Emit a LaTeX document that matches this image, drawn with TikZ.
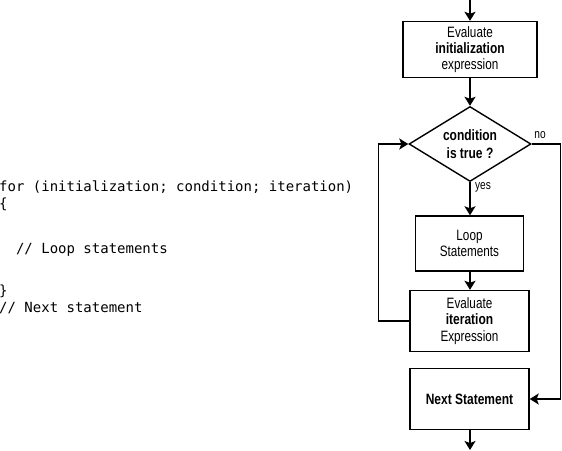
\documentclass[tikz,border=0pt]{standalone}
\usepackage{fontspec}
\setmainfont{Liberation Sans}[FakeStretch=0.78,BoldFeatures={FakeStretch=0.8}]
\newfontfamily\codefont{DejaVu Sans Mono}
\usetikzlibrary{shapes.geometric,arrows.meta}
\begin{document}
\begin{tikzpicture}[x=1pt,y=-1pt,
  every node/.style={font=\fontsize{15}{16.3}\selectfont},
  box/.style={draw,line width=1.4pt,inner sep=0pt,align=center},
  dec/.style={draw,diamond,line width=1.4pt,inner sep=0pt,align=center,shape aspect=1.65,
     minimum width=122pt,minimum height=75pt,font=\fontsize{15}{18}\selectfont\bfseries},
  arr/.style={line width=1.4pt,-{Stealth[length=9pt,width=11pt,inset=2pt]}},
  code/.style={anchor=base west,inner sep=0pt,font=\fontsize{14}{16}\codefont},
  lbl/.style={inner sep=0pt,font=\fontsize{13}{14}\selectfont}]
\useasboundingbox (0,0) rectangle (562,450);
% code
\node[code] (c1) at (-1,191) {for (initialization; condition; iteration)};
\node[code] (c2) at (-1,208) {\{};
\node[code] (c3) at (-1,253) {\ \ // Loop statements};
\node[code] (c4) at (-1,295) {\}};
\node[code] (c5) at (-1,312) {// Next statement};
% flowchart
\coordinate (top) at (470,0);
\node[box,minimum width=134pt,minimum height=56pt] (init) at (470,49.5)
  {Evaluate\\\textbf{initialization}\\expression};
\node[dec] (cond) at (470,144) {condition\\is true ?};
\node[box,minimum width=108pt,minimum height=55pt] (loop) at (469.5,243.5)
  {Loop\\Statements};
\node[box,minimum width=119pt,minimum height=61pt] (iter) at (469.5,321)
  {Evaluate\\\textbf{iteration}\\Expression};
\node[box,minimum width=119pt,minimum height=61pt,font=\fontsize{15}{16}\selectfont\bfseries] (next) at (469.5,399)
  {Next Statement};
\coordinate (bot) at (470,450);
\coordinate (lc) at (378.5,0);
\coordinate (rc) at (560.5,0);
\draw[arr] (top) -- (init.north);
\draw[arr] (init.south) -- (cond.north);
\draw[arr] (cond.south) -- (loop.north -| cond.south);
\draw[arr] (loop.south -| cond.south) -- (iter.north -| cond.south);
\draw[arr] (iter.west) -- (iter.west -| lc) -- (cond.west -| lc) -- (cond.west);
\draw[arr] (cond.east) -- (cond.east -| rc) -- (next.east -| rc) -- (next.east);
\draw[arr] (next.south -| cond.south) -- (bot);
\node[lbl] (no) at (540,135) {no};
\node[lbl] (yes) at (483,187) {yes};
\end{tikzpicture}
\end{document}
